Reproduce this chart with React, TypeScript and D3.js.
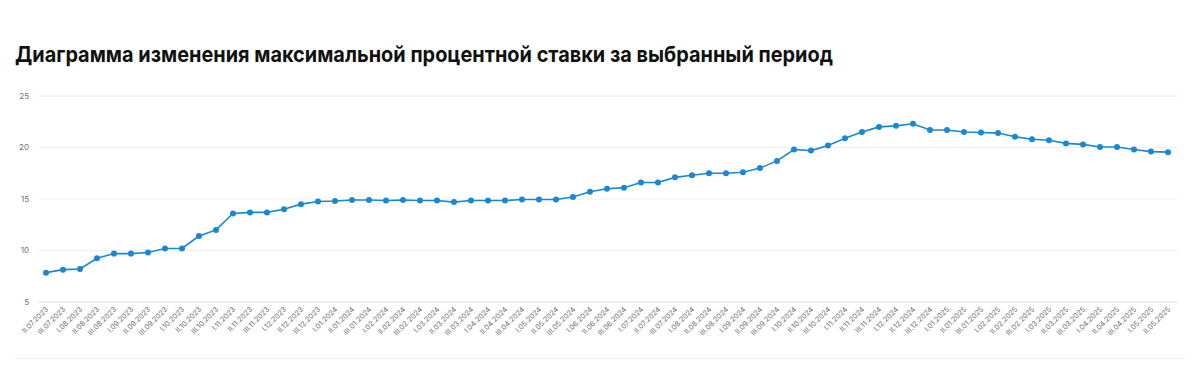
import * as d3 from "d3";

const periods = [
  "II.07.2023", "III.07.2023",
  "I.08.2023", "II.08.2023", "III.08.2023",
  "I.09.2023", "II.09.2023", "III.09.2023",
  "I.10.2023", "II.10.2023", "III.10.2023",
  "I.11.2023", "II.11.2023", "III.11.2023",
  "I.12.2023", "II.12.2023", "III.12.2023",
  "I.01.2024", "II.01.2024", "III.01.2024",
  "I.02.2024", "II.02.2024", "III.02.2024",
  "I.03.2024", "II.03.2024", "III.03.2024",
  "I.04.2024", "II.04.2024", "III.04.2024",
  "I.05.2024", "II.05.2024", "III.05.2024",
  "I.06.2024", "II.06.2024", "III.06.2024",
  "I.07.2024", "II.07.2024", "III.07.2024",
  "I.08.2024", "II.08.2024", "III.08.2024",
  "I.09.2024", "II.09.2024", "III.09.2024",
  "I.10.2024", "II.10.2024", "III.10.2024",
  "I.11.2024", "II.11.2024", "III.11.2024",
  "I.12.2024", "II.12.2024", "III.12.2024",
  "I.01.2025", "II.01.2025", "III.01.2025",
  "I.02.2025", "II.02.2025", "III.02.2025",
  "I.03.2025", "II.03.2025", "III.03.2025",
  "I.04.2025", "II.04.2025", "III.04.2025",
  "I.05.2025", "II.05.2025",
];

const maxRate = [
  7.85, 8.14, 8.2, 9.25, 9.7, 9.7, 9.8, 10.2, 10.2, 11.4, 12.0,
  13.6, 13.7, 13.7, 14.0, 14.5, 14.75,
  14.8, 14.9, 14.9, 14.85, 14.9, 14.85, 14.85, 14.7, 14.85, 14.85, 14.85,
  14.95, 14.95, 14.95, 15.2, 15.7, 16.0, 16.1, 16.6, 16.6, 17.1, 17.3,
  17.5, 17.5, 17.6, 18.0, 18.7, 19.8, 19.7, 20.2, 20.9, 21.5, 22.0, 22.1, 22.3,
  21.7, 21.7, 21.5, 21.45, 21.4, 21.05, 20.8, 20.7, 20.4, 20.3, 20.05, 20.05,
  19.8, 19.6, 19.55,
];

const yTicks = [5, 10, 15, 20, 25];

const W = 1200;
const H = 372;

export default function App() {
  const x = d3
    .scalePoint<string>()
    .domain(periods)
    .range([46, 1168]);
  const y = d3.scaleLinear().domain([5, 25]).range([302, 96]);

  const line = d3
    .line<number>()
    .x((_, i) => x(periods[i]) as number)
    .y((d) => y(d));

  const font = "Inter, 'Noto Sans', sans-serif";

  return (
    <svg
      width={W}
      height={H}
      style={{ position: "absolute", left: 0, top: 0, background: "#fff" }}
      fontFamily={font}
    >
      <text
        x={15}
        y={62}
        fontSize={21.5}
        fontWeight={700}
        fill="#111"
        textLength={818}
        lengthAdjust="spacingAndGlyphs"
      >
        Диаграмма изменения максимальной процентной ставки за выбранный период
      </text>

      {yTicks.map((t) => (
        <g key={t}>
          <line
            x1={38}
            x2={1178}
            y1={y(t)}
            y2={y(t)}
            stroke={t === 5 ? "#dde5f0" : "#eef0f3"}
            strokeWidth={1}
          />
          <text
            x={29}
            y={y(t)}
            dy="0.35em"
            textAnchor="end"
            fontSize={8}
            fill="#6e7079"
          >
            {t}
          </text>
        </g>
      ))}

      {periods.map((p) => (
        <text
          key={p}
          transform={`translate(${(x(p) as number) + 1},${308}) rotate(-45)`}
          textAnchor="end"
          dy="0.35em"
          fontSize={7.3}
          fill="#6e7079"
        >
          {p}
        </text>
      ))}

      <line x1={15} x2={1185} y1={358.5} y2={358.5} stroke="#eef0f3" />

      <path d={line(maxRate) ?? ""} fill="none" stroke="#1a87d0" strokeWidth={1.6} />
      {maxRate.map((v, i) => (
        <circle key={i} cx={x(periods[i]) as number} cy={y(v)} r={3} fill="#1a87d0" />
      ))}
    </svg>
  );
}
